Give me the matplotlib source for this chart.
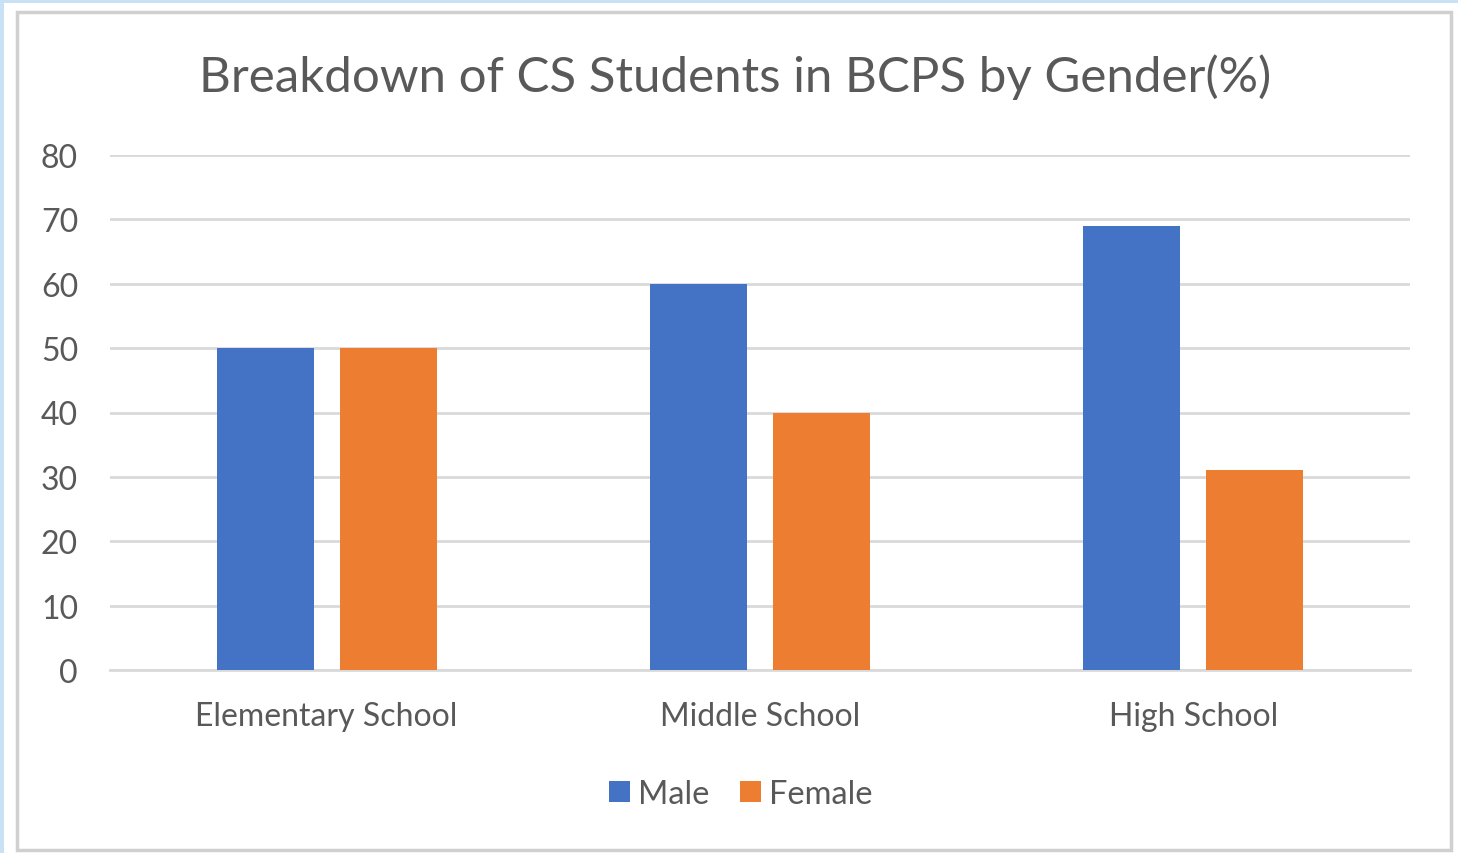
import matplotlib
matplotlib.use("Agg")
import matplotlib.pyplot as plt
from matplotlib.patches import Rectangle
import numpy as np

categories = ["Elementary School", "Middle School", "High School"]
male = [50, 60, 69]
female = [50, 40, 31]
series_names = ["Male", "Female"]
yticks = [0, 10, 20, 30, 40, 50, 60, 70, 80]
title = "Breakdown of CS Students in BCPS by Gender(%)"

plt.rcParams['font.family'] = ['Lato', 'DejaVu Sans']
TXT = "#595959"
BLUE = "#4472C4"
ORANGE = "#ED7D31"

fig = plt.figure(figsize=(14.58, 8.54), dpi=100)
fig.patch.set_facecolor("#C9E1F5")
W, H = 1458, 854
# white panel
fig.patches.append(Rectangle((4 / W, 0), 1 - 4 / W, 1 - 4 / H, transform=fig.transFigure,
                             facecolor="white", edgecolor="none", zorder=-2))
# gray inner border
fig.patches.append(Rectangle((17 / W, 3 / H), (1451 - 17) / W, (841 - 3) / H, transform=fig.transFigure,
                             facecolor="white", edgecolor="#D0D0D0", linewidth=2.5, zorder=-1))

ax = fig.add_axes([110 / W, 1 - 671 / H, 1300 / W, 515 / H])
ax.set_facecolor("none")
x = np.arange(len(categories))
bw = 0.224
off = 0.142
ax.bar(x - off, male, bw, color=BLUE, label=series_names[0], zorder=3)
ax.bar(x + off, female, bw, color=ORANGE, label=series_names[1], zorder=3)

ax.set_xlim(-0.5, 2.5)
ax.set_ylim(0, 80)
ax.set_yticks(yticks)
ax.set_xticks(x)
ax.set_xticklabels(categories)
ax.grid(axis="y", color="#D9D9D9", linewidth=2, zorder=0)
ax.set_axisbelow(True)
for s in ["top", "right", "left"]:
    ax.spines[s].set_visible(False)
ax.spines["bottom"].set_color("#D9D9D9")
ax.spines["bottom"].set_linewidth(2)
ax.tick_params(axis="both", length=0, labelsize=23, labelcolor=TXT)
ax.tick_params(axis="y", pad=23)
ax.tick_params(axis="x", pad=22)

fig.text(735 / W, 1 - 77 / H, title, ha="center", va="center", fontsize=35.5, color=TXT)

leg = fig.legend(loc="center", bbox_to_anchor=(741 / W, 1 - 795 / H), ncol=2, frameon=False,
                 fontsize=23.5, handlelength=0.64, handleheight=0.64, handletextpad=0.25,
                 columnspacing=0.95)
for t in leg.get_texts():
    t.set_color(TXT)

fig.savefig("out.png", dpi=100, facecolor=fig.get_facecolor())
